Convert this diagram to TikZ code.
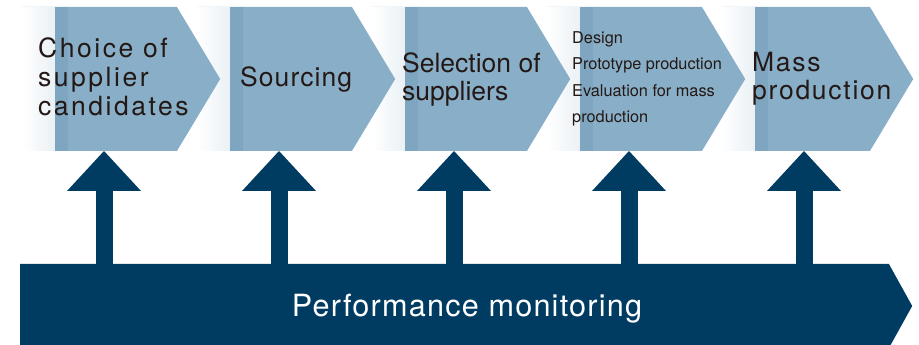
\documentclass[tikz,border=0pt]{standalone}
\usepackage{fontspec}
\setmainfont{TeX Gyre Heros}
\usetikzlibrary{shapes.symbols,arrows.meta,positioning}

\definecolor{chevblue}{HTML}{89AFC8}
\definecolor{chevdark}{HTML}{7FA6C0}
\definecolor{navy}{HTML}{003C61}
\definecolor{inkcol}{HTML}{231815}

\begin{document}
\begin{tikzpicture}[x=1pt,y=1pt,
	chevron/.style={signal, signal to=east, signal from=nowhere,
		signal pointer angle=118, minimum width=198pt, minimum height=144pt,
		inner sep=0pt, fill=chevblue,
		path picture={
			\shade[left color=white, right color=chevdark]
				(path picture bounding box.south west) rectangle
				([xshift=33pt]path picture bounding box.north west);
			\fill[chevdark]
				([xshift=33pt]path picture bounding box.south west) rectangle
				([xshift=46pt]path picture bounding box.north west);
		}},
	monitor/.style={signal, signal to=east, signal from=nowhere,
		signal pointer angle=122, minimum width=892pt, minimum height=84pt,
		inner sep=0pt, fill=navy},
	uparrow/.style={draw=navy, line width=17pt,
		-{Triangle[width=74pt,length=40pt,line width=0pt]}},
	steptext/.style={anchor=west, align=left, text=inkcol, inner sep=0pt},
	bigtext/.style={font=\fontsize{26.5}{28}\selectfont}
]
	\useasboundingbox (0,0) rectangle (919,345);
	\clip (0,0) rectangle (919,345);

	% Chevrons, drawn right to left so each tip lies on the next one
	\def\chevStep{175}
	\node[chevron, anchor=west, minimum width=191pt] (c5) at (722,266) {};
	\foreach \i in {4,3,...,1} {
		\node[chevron, anchor=west] (c\i) at ({22+\chevStep*(\i-1)},266) {};
	}

	% Step labels
	\node[steptext, font=\fontsize{26.5}{29}\selectfont\addfontfeatures{LetterSpace=9.5}]
		(t1) at ([shift={(16pt,2pt)}]c1.west) {Choice of\\supplier\\candidates};
	\node[steptext, font=\fontsize{26.5}{28}\selectfont\addfontfeatures{LetterSpace=4}]
		(t2) at ([xshift=43pt]c2.west) {Sourcing};
	\node[steptext, bigtext] (t3) at ([xshift=30pt]c3.west) {Selection of\\suppliers};
	\node[steptext, font=\fontsize{16.3}{26.5}\selectfont]
		(t4) at ([xshift=25pt]c4.west) {Design\\Prototype production\\Evaluation for mass\\production};
	\node[steptext, font=\fontsize{26.5}{28}\selectfont\addfontfeatures{LetterSpace=6.5}]
		(t5) at ([xshift=30pt]c5.west) {Mass\\production};

	% Monitoring bar
	\node[monitor, anchor=west] (bar) at (20,39) {};
	\node[anchor=base, inner sep=0pt, text=white,
		font=\fontsize{30.6}{34}\selectfont\addfontfeatures{LetterSpace=4}]
		(barlabel) at (467,28) {Performance monitoring};

	% Arrows from the bar up to each step
	\foreach \i in {1,...,5} {
		\path (c\i.west) ++(82pt,-72pt) coordinate (a\i);
		\draw[uparrow] (a\i |- bar.north) -- (a\i);
	}
\end{tikzpicture}
\end{document}
